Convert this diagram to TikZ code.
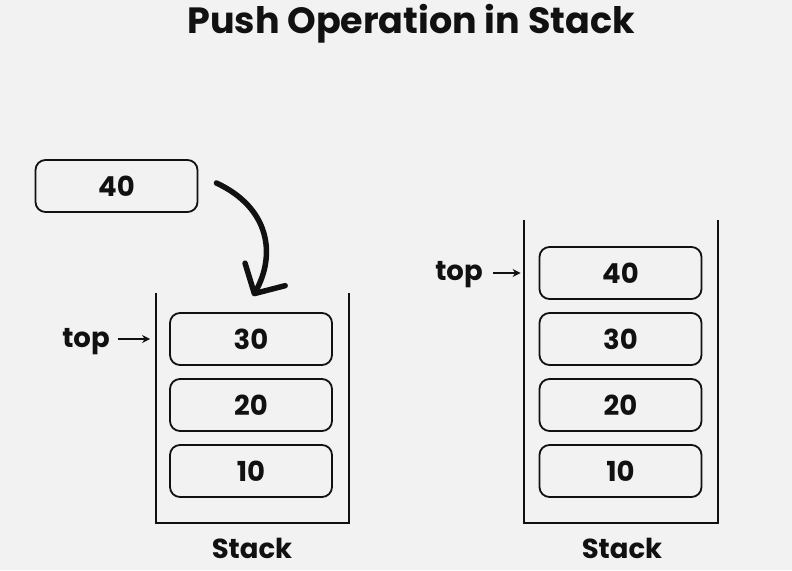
\documentclass[tikz,border=0pt]{standalone}
\usepackage{fontspec}
\setmainfont{Poppins}
\usetikzlibrary{positioning,arrows.meta}
\definecolor{bgcol}{HTML}{F2F2F2}
\definecolor{ink}{HTML}{111111}

\begin{document}
\begin{tikzpicture}[x=1pt, y=-1pt,
        cell/.style={draw=ink, line width=1.8pt, rounded corners=10pt, minimum width=162pt, minimum height=52pt, inner sep=0pt, font=\fontsize{27.5}{29}\selectfont\bfseries, text=ink},
        lbl/.style={font=\fontsize{27.5}{29}\selectfont\bfseries, text=ink, inner sep=0pt},
        wall/.style={draw=ink, line width=1.8pt},
        ptr/.style={draw=ink, line width=1.6pt, -{Stealth[length=8pt, width=8pt]}},
        pusharrow/.style={draw=ink, line width=5.5pt, line cap=round, -{Straight Barb[length=22pt, width=46pt, round]}}]
        \fill[bgcol] (0,0) rectangle (792,570);
        \useasboundingbox (0,0) rectangle (792,570);

        \node[font=\fontsize{36.5}{38}\selectfont\bfseries, text=ink, anchor=base] (title) at (411,33) {Push Operation in Stack};

        % before the push
        \node[cell] (new) at (116.5,186) {40};
        \foreach \v/\y in {30/339, 20/405, 10/471}
            \node[cell] (l\v) at (251,\y) {\v};
        \draw[wall] (156,293) -- (156,523) -- (349,523) -- (349,293);
        \node[lbl] (stackL) at (252,548) {Stack};
        \node[lbl, anchor=base] (topL) at (86,347) {top};
        \draw[ptr, shorten <=8pt, shorten >=19pt] (topL.east |- l30.west) -- (l30.west);

        \coordinate (from) at ([xshift=18pt, yshift=3pt]new.east);
        \coordinate (into) at (253,296);
        \draw[pusharrow] (from) .. controls (270,208) and (276,255) .. (into);

        % after the push
        \foreach \v/\y in {40/273, 30/339, 20/405, 10/471}
            \node[cell] (r\v) at (620.5,\y) {\v};
        \draw[wall] (524,220) -- (524,523) -- (718,523) -- (718,220);
        \node[lbl] (stackR) at (622,548) {Stack};
        \node[lbl, anchor=base] (topR) at (459,280) {top};
        \draw[ptr, shorten <=10pt, shorten >=18pt] (topR.east |- r40.west) -- (r40.west);
    \end{tikzpicture}
\end{document}
